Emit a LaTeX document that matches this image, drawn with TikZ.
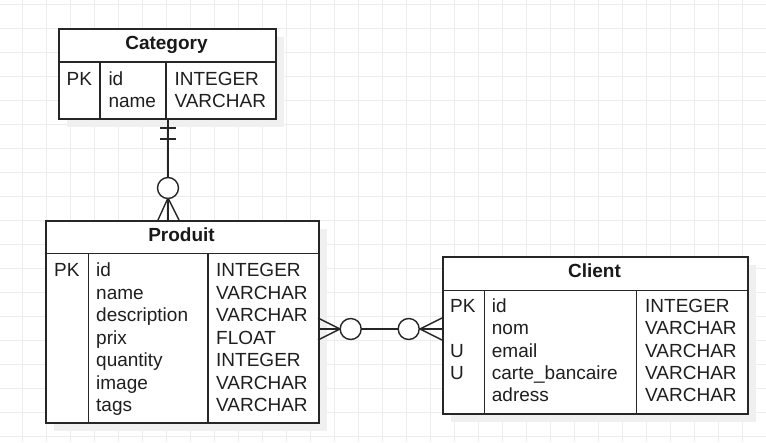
\documentclass[tikz,border=0pt]{standalone}
\usepackage{fontspec}
\setmainfont{Liberation Sans}
\begin{document}
\begin{tikzpicture}[x=1pt,y=-1pt,
  tbl/.style={draw=black!85, line width=1.5pt, fill=white},
  sep/.style={draw=black!85, line width=1.5pt},
  shadowbox/.style={fill=black!6, draw=none},
  txt/.style={anchor=base west, inner sep=0pt, text=black!88, font=\fontsize{19}{22}\selectfont},
  hdr/.style={anchor=base, inner sep=0pt, text=black!90, font=\fontsize{19}{22}\selectfont\bfseries},
  rel/.style={draw=black!85, line width=1.4pt},
  relcirc/.style={draw=black!85, line width=1.4pt, fill=white}]
\useasboundingbox (0,0) rectangle (766,442);
\fill[white] (0,0) rectangle (766,442);
% grid
\foreach \gx in {22,46,...,766} \draw[black!7, line width=1pt] (\gx,0) -- (\gx,442);
\foreach \gy in {4,28,...,442} \draw[black!7, line width=1pt] (0,\gy) -- (766,\gy);

% shadows
\fill[shadowbox] (67,37) rectangle (284,127);
\fill[shadowbox] (54,229) rectangle (327,431);
\fill[shadowbox] (451,265) rectangle (756,422);

% ---------- Category ----------
\node[tbl, anchor=north west, minimum width=217pt, minimum height=90pt, inner sep=0pt] (cat) at (58,28) {};
\draw[sep] (58,62) -- (275,62);
\draw[sep] (100,62) -- (100,118);
\draw[sep] (166,62) -- (166,118);
\node[hdr] (catT) at (166.5,49.5) {Category};
\node[txt] (catpk) at (66.5,85) {PK};
\node[txt] (catid) at (108.3,85) {id};
\node[txt] (catnm) at (108.3,107.3) {name};
\node[txt] (catt1) at (174.3,85) {INTEGER};
\node[txt] (catt2) at (174.3,107.3) {VARCHAR};

% ---------- Produit ----------
\node[tbl, anchor=north west, minimum width=273pt, minimum height=202pt, inner sep=0pt] (prod) at (45,220) {};
\draw[sep] (45,253.3) -- (318,253.3);
\draw[sep] (88.3,253.3) -- (88.3,422);
\draw[sep] (208,253.3) -- (208,422);
\node[hdr] (prodT) at (181.5,241.7) {Produit};
\node[txt] (prodpk) at (54,276.7) {PK};
\foreach \nm/\ty [count=\i from 0] in {id/INTEGER, name/VARCHAR, description/VARCHAR, prix/FLOAT, quantity/INTEGER, image/VARCHAR, tags/VARCHAR}{
  \node[txt] (prodf\i) at (96,276.7+22.5*\i) {\nm};
  \node[txt] (prodt\i) at (216,276.7+22.5*\i) {\ty};
}

% ---------- Client ----------
\node[tbl, anchor=north west, minimum width=305pt, minimum height=157pt, inner sep=0pt] (cli) at (442,256) {};
\draw[sep] (442,290.7) -- (747,290.7);
\draw[sep] (484.3,290.7) -- (484.3,413);
\draw[sep] (636.7,290.7) -- (636.7,413);
\node[hdr] (cliT) at (594.5,277.3) {Client};
\node[txt] (clipk) at (450,312.7) {PK};
\node[txt] (cliu1) at (450,357.2) {U};
\node[txt] (cliu2) at (450,379.4) {U};
\foreach \nm/\ty [count=\i from 0] in {id/INTEGER, nom/VARCHAR, email/VARCHAR, carte\_bancaire/VARCHAR, adress/VARCHAR}{
  \node[txt] (clif\i) at (491.7,312.7+22.25*\i) {\nm};
  \node[txt] (clit\i) at (645,312.7+22.25*\i) {\ty};
}

% ---------- Category -- Produit (one-and-only-one to zero-or-many) ----------
\coordinate (r1a) at (168,118);
\coordinate (r1b) at (168,220);
\draw[rel] (r1a) -- (r1b);
\draw[rel] (160,128) -- (176,128);
\draw[rel] (160,139) -- (176,139);
\coordinate (r1tip) at (168,198);
\draw[rel] (r1tip) -- (158,220);
\draw[rel] (r1tip) -- (179,220);
\node[relcirc, circle, minimum size=21pt, inner sep=0pt] (r1c) at (168,188) {};

% ---------- Produit -- Client (zero-or-many to zero-or-many) ----------
\coordinate (r2a) at (318,329);
\coordinate (r2b) at (442,329);
\draw[rel] (r2a) -- (r2b);
\coordinate (r2tipL) at (340,329);
\draw[rel] (r2tipL) -- (318,318);
\draw[rel] (r2tipL) -- (318,340);
\coordinate (r2tipR) at (420,329);
\draw[rel] (r2tipR) -- (442,318);
\draw[rel] (r2tipR) -- (442,340);
\node[relcirc, circle, minimum size=21pt, inner sep=0pt] (r2cL) at (350.7,329) {};
\node[relcirc, circle, minimum size=21pt, inner sep=0pt] (r2cR) at (408.7,329) {};
\end{tikzpicture}
\end{document}
